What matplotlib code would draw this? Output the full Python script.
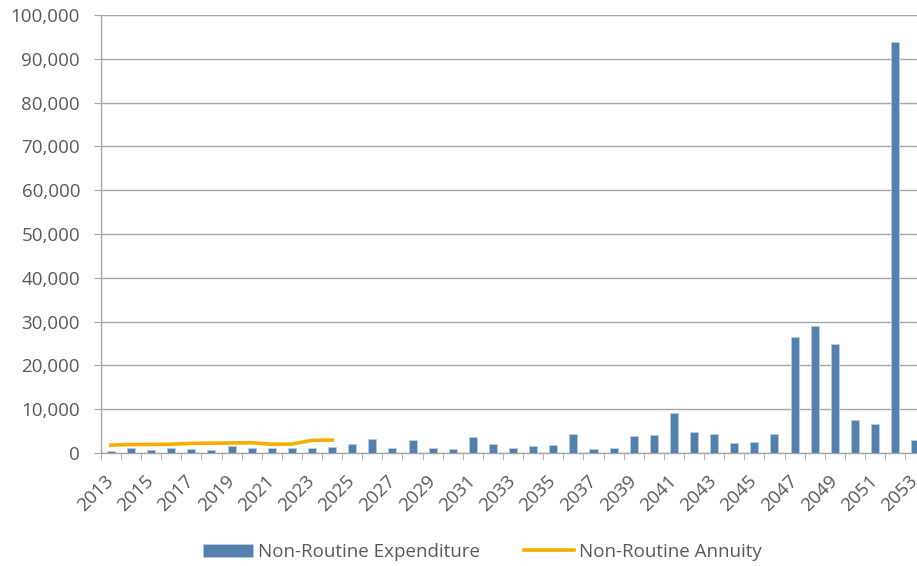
import numpy as np
from matplotlib import pyplot as plt
from matplotlib.ticker import FuncFormatter

years = list(range(2013, 2054))
expenditure = [500, 1050, 600, 1050, 900, 700, 1500, 1200, 1200, 1200,
               1250, 1400, 2000, 3100, 1100, 2900, 1200, 850, 3700, 2000,
               1150, 1500, 1750, 4250, 900, 1050, 4000, 4100, 9200, 4750,
               4450, 2200, 2450, 4250, 26600, 28900, 25000, 7550, 6600, 93800,
               3050]
annuity_years = list(range(2013, 2025))
annuity = [1800, 1950, 1950, 2000, 2200, 2250, 2300, 2350, 2000, 2050, 2900, 2950]

bar_color = '#5380AC'
line_color = '#F0B000'
grid_color = '#A6A6A6'
text_color = '#595959'

plt.rcParams['font.family'] = ['Open Sans', 'DejaVu Sans']

fig = plt.figure(figsize=(9.17, 5.66), dpi=100)
ax = fig.add_axes([0.110, 0.1996, 0.899, 0.7739])

x = np.arange(len(years))
bars = ax.bar(x, expenditure, width=0.4, color=bar_color, edgecolor='#B8CCE0', linewidth=0.6,
              label='Non-Routine Expenditure', zorder=3)
xa = [years.index(y) for y in annuity_years]
line, = ax.plot(xa, annuity, color=line_color, linewidth=2.6, label='Non-Routine Annuity', zorder=4)

ax.set_xlim(-0.5, len(years) - 0.5)
ax.set_ylim(0, 100000)
ax.set_yticks(np.arange(0, 100001, 10000))
ax.yaxis.set_major_formatter(FuncFormatter(lambda v, p: '{:,.0f}'.format(v)))
ax.yaxis.grid(True, color=grid_color, linewidth=1.0, zorder=0)
ax.tick_params(axis='y', length=5, color=grid_color, labelcolor=text_color, labelsize=13.5, pad=10)

ax.set_xticks(x[::2])
ax.set_xticklabels([str(y) for y in years[::2]], rotation=45, ha='right',
                   rotation_mode='anchor', va='center')
ax.set_xticks(np.arange(-0.5, len(years), 1), minor=True)
ax.tick_params(axis='x', which='major', length=0, labelcolor=text_color, labelsize=13.5, pad=18)
ax.tick_params(axis='x', which='minor', length=5, color=grid_color)

for side in ['top', 'right']:
    ax.spines[side].set_visible(False)
for side in ['left', 'bottom']:
    ax.spines[side].set_color(grid_color)
    ax.spines[side].set_linewidth(1.0)

leg = fig.legend(handles=[bars, line], loc='center', bbox_to_anchor=(0.526, 0.025), ncol=2,
                 frameon=False, fontsize=13.5, handlelength=2.7, columnspacing=2.3,
                 handletextpad=0.27)
for t in leg.get_texts():
    t.set_color(text_color)

fig.savefig('out.png', dpi=100)
